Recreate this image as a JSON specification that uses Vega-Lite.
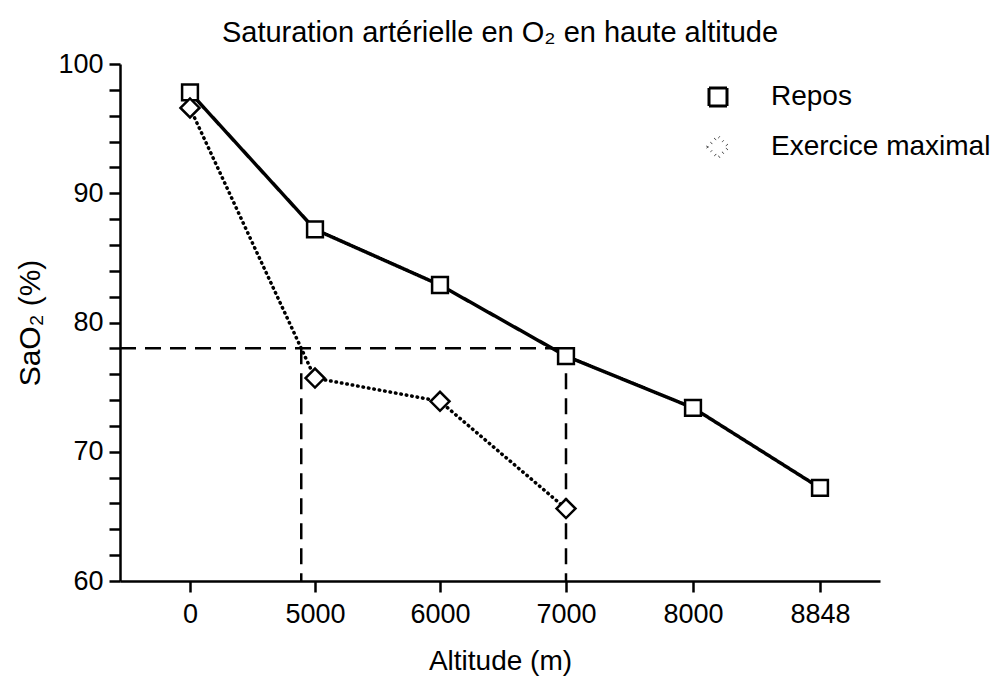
{
  "$schema": "https://vega.github.io/schema/vega-lite/v6.json",
  "width": 760,
  "height": 517,
  "autosize": "none",
  "padding": {"left": 120, "top": 64, "right": 114, "bottom": 103},
  "background": "white",
  "config": {
    "font": "Liberation Sans",
    "view": {"stroke": null},
    "axis": {
      "grid": false,
      "domainColor": "black",
      "tickColor": "black",
      "labelColor": "black",
      "titleColor": "black",
      "domainWidth": 2.5,
      "tickWidth": 2.5,
      "labelFont": "Liberation Sans",
      "titleFont": "Liberation Sans",
      "titleFontWeight": "normal"
    }
  },
  "title": {
    "text": "Saturation artérielle en O₂ en haute altitude",
    "fontSize": 29,
    "fontWeight": "normal",
    "color": "black",
    "font": "Liberation Sans",
    "offset": 2
  },
  "datasets": {
    "mesures": [
      {"altitude": 0, "serie": "Repos", "sao2": 97.8},
      {"altitude": 5000, "serie": "Repos", "sao2": 87.2},
      {"altitude": 6000, "serie": "Repos", "sao2": 82.9},
      {"altitude": 7000, "serie": "Repos", "sao2": 77.4},
      {"altitude": 8000, "serie": "Repos", "sao2": 73.4},
      {"altitude": 8848, "serie": "Repos", "sao2": 67.2},
      {"altitude": 0, "serie": "Exercice maximal", "sao2": 96.6},
      {"altitude": 5000, "serie": "Exercice maximal", "sao2": 75.7},
      {"altitude": 6000, "serie": "Exercice maximal", "sao2": 73.9},
      {"altitude": 7000, "serie": "Exercice maximal", "sao2": 65.6}
    ],
    "reperes": [
      {"altitude": -2500, "altitude2": 7000, "sao2": 78, "sao2b": 78},
      {"altitude": 7000, "altitude2": 7000, "sao2": 78, "sao2b": 60},
      {"altitude": 4450, "altitude2": 4450, "sao2": 78, "sao2b": 60}
    ]
  },
  "encoding": {
    "x": {
      "field": "altitude",
      "type": "quantitative",
      "scale": {
        "domain": [-2500, 0, 5000, 6000, 7000, 8000, 8848, 9250],
        "range": [0, 70, 195, 320, 446, 573, 700, 760],
        "nice": false,
        "zero": false
      },
      "axis": {
        "title": "Altitude (m)",
        "values": [0, 5000, 6000, 7000, 8000, 8848],
        "format": "d",
        "tickSize": 11,
        "labelPadding": 9,
        "labelFontSize": 27,
        "titleFontSize": 28,
        "titlePadding": 20
      }
    },
    "y": {
      "field": "sao2",
      "type": "quantitative",
      "scale": {"domain": [60, 100], "nice": false, "zero": false},
      "axis": {
        "title": "SaO₂ (%)",
        "values": [60, 62, 64, 66, 68, 70, 72, 74, 76, 78, 80, 82, 84, 86, 88, 90, 92, 94, 96, 98, 100],
        "labelExpr": "datum.value % 10 === 0 ? datum.label : ''",
        "tickSize": 11,
        "labelPadding": 6,
        "labelFontSize": 27,
        "titleFontSize": 30,
        "titlePadding": 12
      }
    }
  },
  "layer": [
    {
      "data": {"name": "reperes"},
      "mark": {"type": "rule", "color": "black", "strokeWidth": 2.5, "strokeDash": [16, 9]},
      "encoding": {
        "x2": {"field": "altitude2"},
        "y2": {"field": "sao2b"}
      }
    },
    {
      "data": {"name": "mesures"},
      "mark": {"type": "line", "color": "black", "strokeWidth": 3.5, "strokeCap": "round"},
      "encoding": {
        "strokeDash": {
          "field": "serie",
          "type": "nominal",
          "scale": {"domain": ["Repos", "Exercice maximal"], "range": [[1, 0], [0.5, 5]]},
          "legend": {
            "title": null,
            "orient": "none",
            "legendX": 584,
            "legendY": 19,
            "padding": 0,
            "symbolType": "stroke",
            "symbolSize": 324,
            "symbolStrokeWidth": 3,
            "symbolStrokeColor": "black",
            "labelFontSize": 28,
            "labelColor": "black",
            "labelFont": "Liberation Sans",
            "labelOffset": 39,
            "labelLimit": 400,
            "rowPadding": 18
          }
        }
      }
    },
    {
      "data": {"name": "mesures"},
      "mark": {"type": "point", "filled": false, "fill": "white", "fillOpacity": 1, "stroke": "black", "strokeWidth": 2.5, "opacity": 1, "size": 250},
      "encoding": {
        "shape": {
          "field": "serie",
          "type": "nominal",
          "scale": {"domain": ["Repos", "Exercice maximal"], "range": ["square", "M-1.2,0L0,-1.2L1.2,0L0,1.2Z"]},
          "legend": null
        }
      }
    }
  ]
}
